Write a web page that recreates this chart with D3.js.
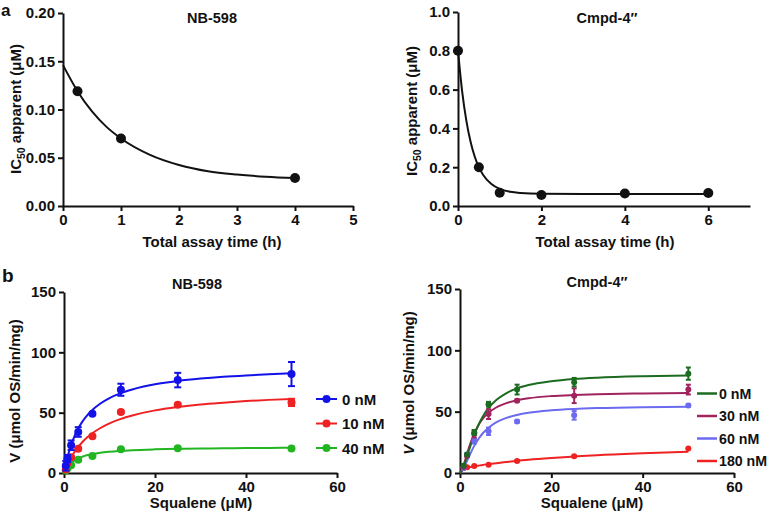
<!DOCTYPE html>
<html><head><meta charset="utf-8">
<script src="https://cdn.jsdelivr.net/npm/d3@7"></script>
<style>
body{margin:0;background:#fff}
svg{display:block}
text{font-family:"Liberation Sans",Arial,Helvetica,sans-serif;font-weight:bold;fill:#111}
</style>
</head><body>
<svg id="c" width="770" height="519"></svg>
<script>
// ---------- Panel a: NB-598 ----------
const nbTime = [0.25, 1, 4];
const nbIC50 = [0.119, 0.070, 0.029];
const nbFitTime = [0, 0.25, 0.5, 0.75, 1, 1.5, 2, 2.5, 3, 3.5, 4];
const nbFitIC50 = [0.146, 0.119, 0.098, 0.082, 0.070, 0.053, 0.0425, 0.036, 0.0326, 0.0304, 0.029];
const aXTicks1 = [0, 1, 2, 3, 4, 5];
const aYTicks1 = [0, 0.05, 0.10, 0.15, 0.20];

// ---------- Panel a: Cmpd-4'' ----------
const cpTime = [0, 0.5, 1, 2, 4, 6];
const cpIC50 = [0.80, 0.20, 0.068, 0.057, 0.064, 0.067];
const cpFitTime = [0, 0.1, 0.2, 0.3, 0.4, 0.5, 0.6, 0.8, 1, 1.25, 1.5, 2, 3, 4, 5, 6];
const cpFitIC50 = [0.80, 0.590, 0.440, 0.332, 0.255, 0.200, 0.161, 0.113, 0.088, 0.073, 0.067, 0.063, 0.062, 0.062, 0.062, 0.062];
const aXTicks2 = [0, 2, 4, 6];
const aYTicks2 = [0, 0.2, 0.4, 0.6, 0.8, 1.0];

// ---------- Panel b: NB-598 ----------
const squaleneNB = [0.39, 0.78, 1.56, 3.125, 6.25, 12.5, 25, 50];
const nbLabels = ["0 nM", "10 nM", "40 nM"];
const nbV0 = [6, 12, 23, 34, 49, 69, 77, 82];
const nbE0 = [4, 3, 4, 4, 1, 5, 6, 10];
const nbV10 = [3, 8, 13, 20, 30.5, 50.5, 56.5, 58.5];
const nbE10 = [1, 1, 1, 1, 1, 1, 1, 3];
const nbV40 = [2, 4, 6.5, 11, 14, 19.6, 20.5, 20.3];
const nbE40 = [0.5, 0.5, 0.5, 0.5, 0.5, 0.5, 0.5, 0.5];
const fitS = [0, 0.5, 1, 1.5, 2, 3, 4, 5, 6, 8, 10, 12.5, 15, 20, 25, 30, 35, 40, 45, 50];
const nbFit0 = [0, 9.0, 16.4, 22.5, 27.7, 36.0, 42.4, 47.4, 51.4, 57.6, 62.1, 66.2, 69.2, 73.5, 76.3, 78.3, 79.8, 80.9, 81.8, 82.6];
const nbFit10 = [0, 4.7, 8.8, 12.4, 15.6, 21.0, 25.5, 29.2, 32.3, 37.3, 41.2, 44.9, 47.7, 51.9, 54.7, 56.8, 58.3, 59.6, 60.6, 61.4];
const nbFit40 = [0, 3.7, 6.3, 8.3, 9.8, 12.0, 13.5, 14.7, 15.5, 16.8, 17.6, 18.3, 18.9, 19.6, 20.0, 20.3, 20.5, 20.7, 20.8, 21.0];

// ---------- Panel b: Cmpd-4'' ----------
const squaleneCP = [0.78, 1.56, 3.125, 6.25, 12.5, 25, 50];
const cpLabels = ["0 nM", "30 nM", "60 nM", "180 nM"];
const cpV0 = [6, 15, 33, 56, 68, 74, 81];
const cpE0 = [1, 1, 2, 2, 4, 3.5, 5];
const cpV30 = [5, 14, 32, 48, 59, 63, 68];
const cpE30 = [1, 1, 3, 4, 1, 6, 4];
const cpV60 = [4, 15, 26, 34, 42, 47, 55];
const cpE60 = [1, 1, 2, 3, 1, 3.5, 1];
const cpV180 = [4, 4.6, 5.7, 6.8, 9.8, 13.6, 19.9];
const cpE180 = [0.5, 0.5, 0.5, 0.5, 0.5, 0.5, 0.5];
const fitS2 = [0, 0.5, 1, 1.5, 2, 3, 4, 5, 6, 8, 10, 12.5, 15, 20, 25, 30, 40, 50];
const cpFit0 = [0, 2.6, 7.4, 13.1, 18.9, 29.9, 38.9, 46.1, 51.8, 59.7, 64.8, 69.0, 71.7, 74.8, 76.6, 77.7, 78.9, 79.5];
const cpFit30 = [0, 3.2, 8.9, 15.1, 21.1, 31.3, 38.8, 44.3, 48.3, 53.6, 56.8, 59.3, 60.9, 62.7, 63.6, 64.2, 64.9, 65.2];
const cpFit60 = [0, 1.9, 5.4, 9.5, 13.6, 21.3, 27.5, 32.4, 36.1, 41.4, 44.7, 47.3, 49.1, 51.1, 52.2, 52.9, 53.7, 54.0];
const cpFit180 = [0, 2.0, 3.3, 4.0, 4.6, 5.4, 6.0, 6.6, 7.1, 8.0, 8.9, 10.0, 10.9, 12.3, 13.4, 14.5, 16.1, 17.4];
const bXTicks = [0, 20, 40, 60];
const bYTicks = [0, 50, 100, 150];

const svg = d3.select("#c");
const FS = 15;

function panel(o) {
  const g = svg.append("g");
  const x = d3.scaleLinear().domain(o.xd).range(o.xr);
  const y = d3.scaleLinear().domain(o.yd).range(o.yr);
  const ax = g.append("g").attr("transform", `translate(0,${o.yr[0]})`)
    .call(d3.axisBottom(x).tickValues(o.xt).tickSize(5).tickSizeOuter(0).tickFormat(o.xf || d3.format("d")));
  const ay = g.append("g").attr("transform", `translate(${o.xr[0]},0)`)
    .call(d3.axisLeft(y).tickValues(o.yt).tickSize(5).tickSizeOuter(0).tickFormat(o.yf || d3.format("d")));
  [ax, ay].forEach(a => {
    a.select(".domain").attr("stroke", "#111").attr("stroke-width", 2);
    a.selectAll(".tick line").attr("stroke", "#111").attr("stroke-width", 2);
    a.selectAll(".tick text").attr("font-size", FS).attr("font-family", null).style("fill", "#111");
  });
  return {g, x, y};
}

function title(txt, cx, by) {
  svg.append("text").attr("x", cx).attr("y", by).attr("text-anchor", "middle").attr("font-size", 14.5).text(txt);
}
function xTitle(txt, cx, by) {
  svg.append("text").attr("x", cx).attr("y", by).attr("text-anchor", "middle").attr("font-size", 15).text(txt);
}
function yTitle(cx, cy, build) {
  const t = svg.append("text").attr("transform", `translate(${cx},${cy}) rotate(-90)`).attr("text-anchor", "middle").attr("font-size", 15);
  build(t);
}

function fitLine(p, xs, ys, color, w) {
  p.g.append("path").datum(xs.map((v, i) => [v, ys[i]]))
    .attr("fill", "none").attr("stroke", color).attr("stroke-width", w)
    .attr("d", d3.line().x(d => p.x(d[0])).y(d => p.y(d[1])).curve(d3.curveMonotoneX));
}
function points(p, xs, ys, color, r, errs, cap) {
  if (errs) {
    xs.forEach((v, i) => {
      const e = errs[i];
      if (e <= 0) return;
      const cx = p.x(v), y1 = p.y(ys[i] - e), y2 = p.y(ys[i] + e);
      p.g.append("line").attr("x1", cx).attr("x2", cx).attr("y1", y1).attr("y2", y2).attr("stroke", color).attr("stroke-width", 2);
      p.g.append("line").attr("x1", cx - cap).attr("x2", cx + cap).attr("y1", y1).attr("y2", y1).attr("stroke", color).attr("stroke-width", 2);
      p.g.append("line").attr("x1", cx - cap).attr("x2", cx + cap).attr("y1", y2).attr("y2", y2).attr("stroke", color).attr("stroke-width", 2);
    });
  }
  p.g.selectAll(null).data(xs.map((v, i) => [v, ys[i]])).enter().append("circle")
    .attr("cx", d => p.x(d[0])).attr("cy", d => p.y(d[1])).attr("r", r).attr("fill", color);
}

// panel letters
svg.append("text").attr("x", 1).attr("y", 16).attr("font-size", 17).text("a");
svg.append("text").attr("x", 2).attr("y", 282).attr("font-size", 19).text("b");

// ---- a left
const p1 = panel({xd: [0, 5], xr: [63, 353], yd: [0, 0.2], yr: [206, 13], xt: aXTicks1, yt: aYTicks1, yf: d3.format(".2f")});
fitLine(p1, nbFitTime, nbFitIC50, "#111", 2);
points(p1, nbTime, nbIC50, "#111", 5);
title("NB-598", 212, 23);
xTitle("Total assay time (h)", 212, 247);
yTitle(21, 109, t => {
  t.append("tspan").text("IC");
  t.append("tspan").attr("font-size", 10.5).attr("dy", 4).text("50");
  t.append("tspan").attr("dy", -4).text(" apparent (\u03BCM)");
});

// ---- a right
const p2 = panel({xd: [0, 7], xr: [458, 750], yd: [0, 1], yr: [206, 12], xt: aXTicks2, yt: aYTicks2, yf: d3.format(".1f")});
fitLine(p2, cpFitTime, cpFitIC50, "#111", 2);
points(p2, cpTime, cpIC50, "#111", 5);
title("Cmpd-4\u2033", 607, 23);
xTitle("Total assay time (h)", 605, 247);
yTitle(417, 111, t => {
  t.append("tspan").text("IC");
  t.append("tspan").attr("font-size", 10.5).attr("dy", 4).text("50");
  t.append("tspan").attr("dy", -4).text(" apparent (\u03BCM)");
});

// ---- b left
const nbColors = ["#1212e8", "#ee2222", "#22b522"];
const p3 = panel({xd: [0, 60], xr: [64, 337], yd: [0, 150], yr: [473, 292], xt: bXTicks, yt: bYTicks});
fitLine(p3, fitS, nbFit40, nbColors[2], 2);
fitLine(p3, fitS, nbFit10, nbColors[1], 2);
fitLine(p3, fitS, nbFit0, nbColors[0], 2);
points(p3, squaleneNB, nbV40, nbColors[2], 4, nbE40, 3.5);
points(p3, squaleneNB, nbV10, nbColors[1], 4, nbE10, 3.5);
points(p3, squaleneNB, nbV0, nbColors[0], 4, nbE0, 3.5);
title("NB-598", 197, 289);
xTitle("Squalene (\u03BCM)", 201, 508);
yTitle(20, 391, t => t.text("V (\u03BCmol OS/min/mg)"));
const legY1 = [399, 423.5, 448];
nbLabels.forEach((lab, i) => {
  svg.append("line").attr("x1", 316).attr("x2", 337).attr("y1", legY1[i]).attr("y2", legY1[i]).attr("stroke", nbColors[i]).attr("stroke-width", 2);
  svg.append("circle").attr("cx", 326.5).attr("cy", legY1[i]).attr("r", 4).attr("fill", nbColors[i]);
  svg.append("text").attr("x", 342).attr("y", legY1[i] + 5.5).attr("font-size", 15).text(lab);
});

// ---- b right
const cpColors = ["#1b6b20", "#a0235e", "#6b6bf0", "#ee2222"];
const p4 = panel({xd: [0, 60], xr: [460, 734], yd: [0, 150], yr: [473, 289], xt: bXTicks, yt: bYTicks});
fitLine(p4, fitS2, cpFit180, cpColors[3], 2);
fitLine(p4, fitS2, cpFit60, cpColors[2], 2);
fitLine(p4, fitS2, cpFit30, cpColors[1], 2);
fitLine(p4, fitS2, cpFit0, cpColors[0], 2);
points(p4, squaleneCP, cpV180, cpColors[3], 3, cpE180, 2.5);
points(p4, squaleneCP, cpV60, cpColors[2], 3, cpE60, 2.5);
points(p4, squaleneCP, cpV30, cpColors[1], 3, cpE30, 2.5);
points(p4, squaleneCP, cpV0, cpColors[0], 3, cpE0, 2.5);
title("Cmpd-4\u2033", 597, 287);
xTitle("Squalene (\u03BCM)", 592, 508);
yTitle(414, 383, t => {
  t.append("tspan").attr("font-style", "italic").text("V");
  t.append("tspan").text(" (\u03BCmol OS/min/mg)");
});
const legY2 = [393.5, 416, 438.5, 461];
cpLabels.forEach((lab, i) => {
  svg.append("line").attr("x1", 697).attr("x2", 717).attr("y1", legY2[i]).attr("y2", legY2[i]).attr("stroke", cpColors[i]).attr("stroke-width", 2.5);
  svg.append("text").attr("x", 719).attr("y", legY2[i] + 5).attr("font-size", 14.2).text(lab);
});
</script>
</body></html>
